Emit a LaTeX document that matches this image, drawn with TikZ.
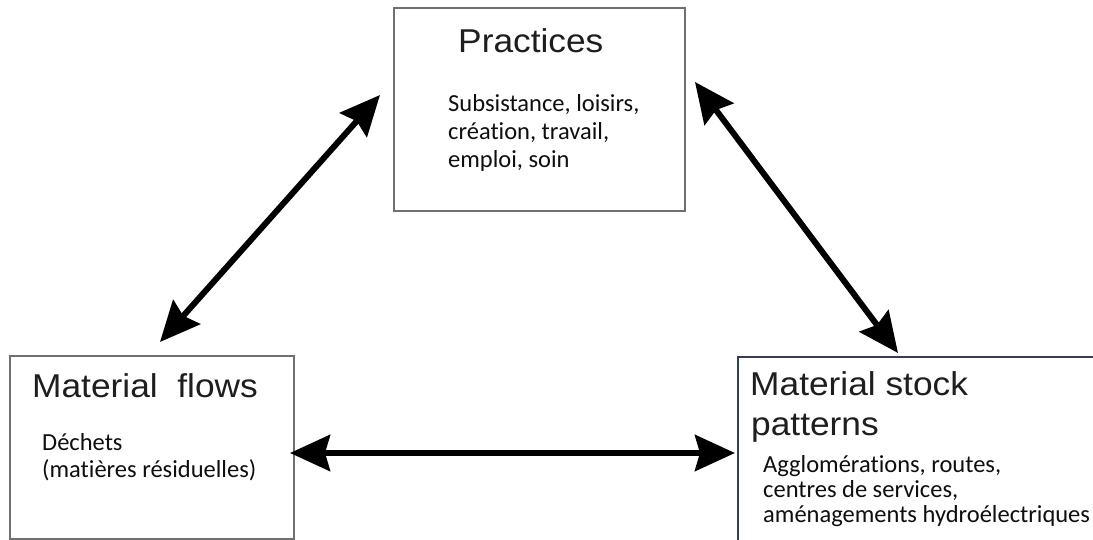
\documentclass[tikz,border=0pt]{standalone}
\usepackage{fontspec}
\setmainfont[Ligatures={NoCommon}]{Carlito}
\newfontfamily\titlefont[FakeStretch=1.07]{Liberation Sans}
\usetikzlibrary{arrows.meta}
\definecolor{boxgray}{RGB}{112,112,112}
\definecolor{boxnavy}{RGB}{50,62,84}
\definecolor{titlegray}{RGB}{30,30,30}
\definecolor{bodyblack}{RGB}{15,15,15}
\begin{document}
\begin{tikzpicture}[x=1pt,y=-1pt,
  box/.style={draw=boxgray, line width=2pt, rectangle, inner sep=0pt, anchor=north west},
  title/.style={font=\titlefont\fontsize{33}{40}\selectfont, anchor=base west, inner sep=0pt, text=titlegray},
  body/.style={font=\fontsize{24.5}{28}\selectfont, anchor=base west, inner sep=0pt, text=bodyblack},
  link/.style={line width=6pt, draw=black,
    {Stealth[length=40pt,width=36pt,inset=5pt]}-{Stealth[length=40pt,width=36pt,inset=5pt]}}
]
\useasboundingbox (0,0) rectangle (1093,540);
\clip (0,0) rectangle (1093,540);
\fill[white] (0,0) rectangle (1093,540);

% boxes
\node[box, minimum width=291pt, minimum height=203pt] (practices) at (393,7) {};
\node[box, minimum width=284pt, minimum height=183pt] (flows) at (9,355) {};
\node[box, draw=boxnavy, minimum width=420pt, minimum height=260pt] (stock) at (737,356) {};

% Practices
\node[title] (ptitle) at (458,53) {Practices};
\node[body] (pl1) at (448,112) {Subsistance, loisirs,};
\node[body] (pl2) at (448,140) {création, travail,};
\node[body] (pl3) at (448,168) {emploi, soin};

% Material flows
\node[title] (ftitle) at (32,397) {Material\ \ flows};
\node[body] (fl1) at (42,450) {Déchets};
\node[body] (fl2) at (42,477) {(matières résiduelles)};

% Material stock patterns
\node[title] (stitle1) at (750,395) {Material stock};
\node[title] (stitle2) at (751,435) {patterns};
\node[body] (sl1) at (763,472) {Agglomérations, routes,};
\node[body] (sl2) at (763,497) {centres de services,};
\node[body] (sl3) at (763,522) {aménagements hydroélectriques};

% arrow end points
\coordinate (a1) at (160,342);
\coordinate (a2) at (380,95);
\coordinate (b1) at (695,82);
\coordinate (b2) at (898,353);
\coordinate (c1) at (290,453);
\coordinate (c2) at (735,453);

\draw[link] (a1) -- (a2);
\draw[link] (b1) -- (b2);
\draw[link] (c1) -- (c2);
\end{tikzpicture}
\end{document}
